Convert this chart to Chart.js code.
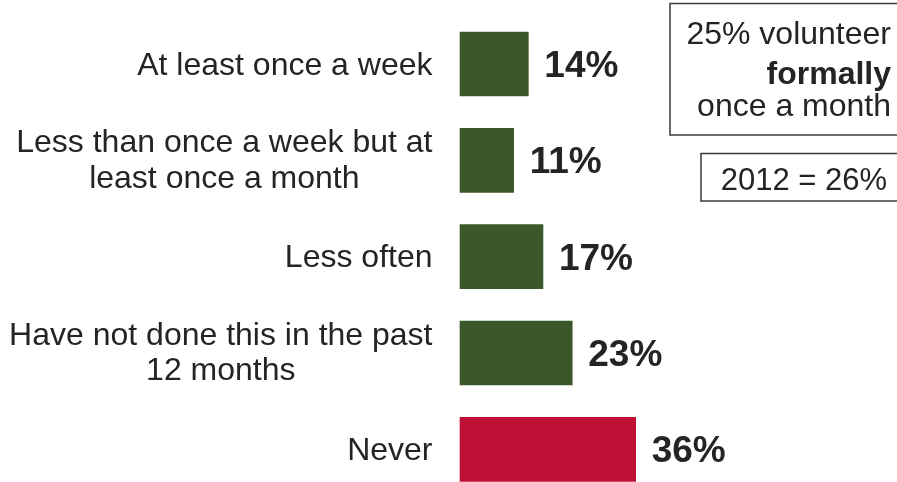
<!DOCTYPE html>
<html>
<head>
<meta charset="utf-8">
<script src="https://cdn.jsdelivr.net/npm/chart.js@4"></script>
<style>
  html, body { margin: 0; padding: 0; background: #ffffff; }
  #wrap { width: 897px; height: 482px; position: relative; }
</style>
</head>
<body>
<div id="wrap"><canvas id="chart"></canvas></div>
<script>
// How often people volunteered formally in the past 12 months
const categories = [
  ['At least once a week'],
  ['Less than once a week but at', 'least once a month'],
  ['Less often'],
  ['Have not done this in the past', '12 months'],
  ['Never']
];
const values = [14, 11, 17, 23, 36];
const valueLabels = ['14%', '11%', '17%', '23%', '36%'];
const noteLines = ['25% volunteer', 'formally', 'once a month'];
const noteBold = [false, true, false];
const comparisonText = '2012 = 26%';

const GREEN = '#3b582b';
const RED = '#be1034';
const barColors = values.map((v, i) => i === values.length - 1 ? RED : GREEN);
const TEXT = '#242424';
const FONT = "'Liberation Sans', Arial, Helvetica, sans-serif";

// Category labels: block right-aligned next to the axis, lines centred within the block
const categoryLabels = {
  id: 'categoryLabels',
  afterDatasetsDraw(chart) {
    const { ctx, scales: { y } } = chart;
    const size = 32, lineH = 35.5, right = 432.5;
    ctx.save();
    ctx.font = `${size}px ${FONT}`;
    ctx.fillStyle = TEXT;
    ctx.textAlign = 'center';
    ctx.textBaseline = 'alphabetic';
    categories.forEach((lines, i) => {
      const cy = y.getPixelForValue(i);
      const w = Math.max(...lines.map(l => ctx.measureText(l).width));
      const cx = right - w / 2;
      lines.forEach((line, k) => {
        const off = (k - (lines.length - 1) / 2) * lineH;
        ctx.fillText(line, cx, cy + off + 10.5 - (lines.length > 1 ? 1 : 0));
      });
    });
    ctx.restore();
  }
};

// Bold percentage to the right of each bar
const valueTags = {
  id: 'valueTags',
  afterDatasetsDraw(chart) {
    const { ctx } = chart;
    const meta = chart.getDatasetMeta(0);
    const size = 37;
    ctx.save();
    ctx.font = `bold ${size}px ${FONT}`;
    ctx.fillStyle = TEXT;
    ctx.textAlign = 'left';
    ctx.textBaseline = 'alphabetic';
    meta.data.forEach((bar, i) => {
      ctx.fillText(valueLabels[i], bar.x + 16, bar.y + 13);
    });
    ctx.restore();
  }
};

// Framed notes in the top-right corner
const notes = {
  id: 'notes',
  afterDraw(chart) {
    const { ctx } = chart;
    ctx.save();
    ctx.strokeStyle = '#3a3a3a';
    ctx.lineWidth = 1.5;
    ctx.strokeRect(670, 3.5, 260, 131.5);
    ctx.strokeRect(701, 153.5, 230, 47.5);
    ctx.fillStyle = TEXT;
    ctx.textAlign = 'right';
    ctx.textBaseline = 'alphabetic';
    const baselines = [43.5, 83.5, 115.5];
    noteLines.forEach((t, i) => {
      ctx.font = `${noteBold[i] ? 'bold ' : ''}32px ${FONT}`;
      ctx.fillText(t, 891, baselines[i]);
    });
    ctx.font = `31px ${FONT}`;
    ctx.fillText(comparisonText, 887, 189.5);
    ctx.restore();
  }
};

new Chart(document.getElementById('chart'), {
  type: 'bar',
  data: {
    labels: categories,
    datasets: [{
      data: values,
      backgroundColor: barColors,
      borderWidth: 0,
      barThickness: 64,
      clip: false
    }]
  },
  options: {
    indexAxis: 'y',
    responsive: true,
    maintainAspectRatio: false,
    animation: false,
    events: [],
    layout: { padding: { left: 460, right: 46.6, top: 64, bottom: 32.7 } },
    plugins: {
      legend: { display: false },
      tooltip: { enabled: false },
      title: { display: false }
    },
    scales: {
      x: { display: false, min: 0, max: 80 },
      y: { display: false, offset: false }
    }
  },
  plugins: [categoryLabels, valueTags, notes]
});
</script>
</body>
</html>
